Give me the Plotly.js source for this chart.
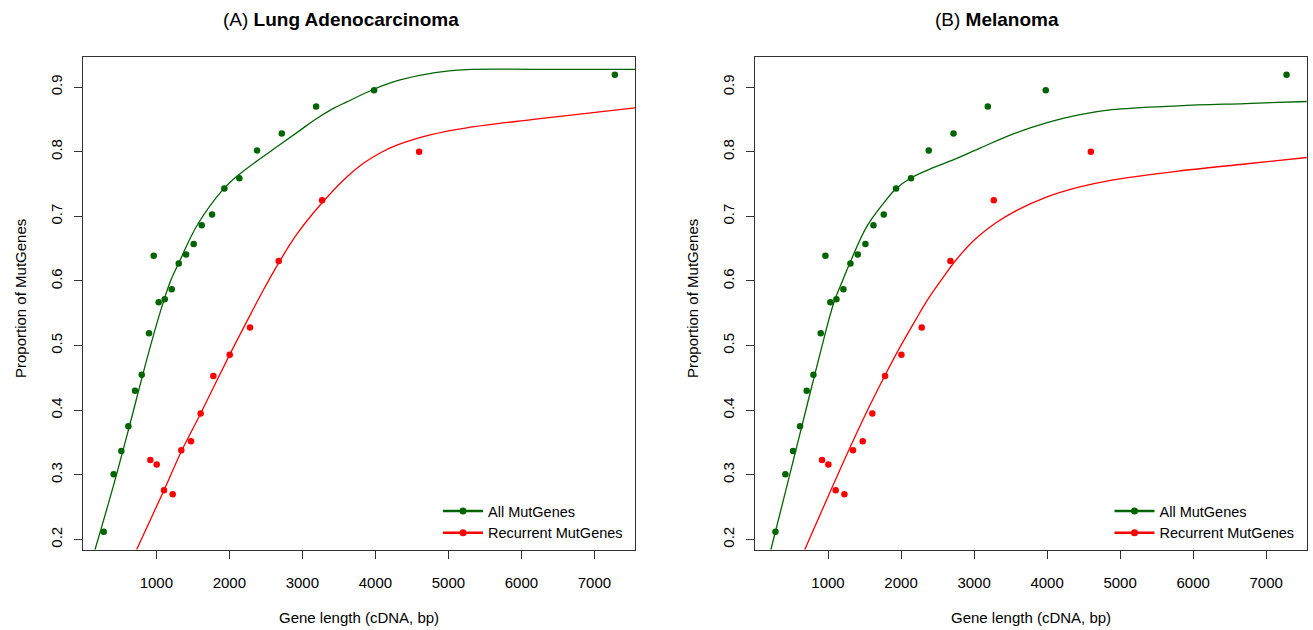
<!DOCTYPE html>
<html>
<head>
<meta charset="utf-8">
<script src="https://cdn.plot.ly/plotly-3.0.1.min.js"></script>
<style>html,body{margin:0;padding:0;background:#fff}#chart{width:1313px;height:630px}</style>
</head>
<body>
<div id="chart"></div>
<script>
// ---- data ----
const allX = [280, 416, 521, 617, 708, 800, 900, 964, 1032, 1115, 1211, 1307, 1407, 1512, 1622, 1763, 1932, 2137, 2379, 2718, 3188, 3982, 7279];
const allY = [0.212, 0.301, 0.337, 0.375, 0.430, 0.455, 0.519, 0.639, 0.567, 0.5715, 0.587, 0.627, 0.641, 0.657, 0.686, 0.703, 0.743, 0.759, 0.802, 0.828, 0.870, 0.895, 0.919];
const recX = [918, 1005, 1105, 1224, 1342, 1475, 1607, 1781, 2005, 2283, 2676, 3270, 4599];
const recY = [0.323, 0.316, 0.276, 0.270, 0.338, 0.352, 0.395, 0.453, 0.486, 0.528, 0.631, 0.725, 0.800];

// smoothed fit curves, panel A (Lung Adenocarcinoma)
const lungAllFitX = [161, 411, 640, 868, 1051, 1188, 1325, 1553, 1918, 2147, 2695, 2968, 3151, 3425, 3608, 3986, 4338, 4795, 5251, 6164, 7560];
const lungAllFitY = [0.1845, 0.2825, 0.379, 0.478, 0.551, 0.598, 0.632, 0.685, 0.742, 0.766, 0.811, 0.833, 0.848, 0.867, 0.877, 0.897, 0.911, 0.922, 0.927, 0.9275, 0.9275];
const lungRecFitX = [731, 1105, 1342, 1607, 2005, 2238, 2466, 2676, 2922, 3270, 3608, 3836, 4064, 4293, 4749, 5251, 6164, 7560];
const lungRecFitY = [0.1845, 0.276, 0.336, 0.395, 0.486, 0.537, 0.586, 0.628, 0.672, 0.721, 0.761, 0.782, 0.798, 0.810, 0.826, 0.837, 0.850, 0.868];

// smoothed fit curves, panel B (Melanoma)
const melAllFitX = [218, 391, 641, 883, 1078, 1205, 1296, 1524, 1751, 1924, 2128, 2433, 2706, 3090, 3547, 4000, 4434, 4888, 5798, 6708, 7560];
const melAllFitY = [0.1845, 0.262, 0.375, 0.484, 0.566, 0.602, 0.627, 0.683, 0.719, 0.742, 0.759, 0.775, 0.787, 0.806, 0.828, 0.845, 0.857, 0.865, 0.871, 0.8745, 0.8777];
const melRecFitX = [682, 1069, 1296, 1524, 1781, 1978, 2206, 2365, 2561, 2750, 3000, 3300, 3547, 4000, 4434, 4888, 5798, 6708, 7560];
const melRecFitY = [0.1845, 0.284, 0.341, 0.396, 0.454, 0.496, 0.541, 0.571, 0.603, 0.632, 0.663, 0.690, 0.707, 0.730, 0.745, 0.756, 0.770, 0.781, 0.791];

const xTicks = [1000, 2000, 3000, 4000, 5000, 6000, 7000];
const xTickText = ['1000', '2000', '3000', '4000', '5000', '6000', '7000'];
const yTicks = [0.2, 0.3, 0.4, 0.5, 0.6, 0.7, 0.8, 0.9];
const yTickText = ['0.2', '0.3', '0.4', '0.5', '0.6', '0.7', '0.8', '0.9'];

const seriesNames = ['All MutGenes', 'Recurrent MutGenes'];
const panelTitles = ['(A) <b>Lung Adenocarcinoma</b>', '(B) <b>Melanoma</b>'];

// ---- styles ----
const GREEN = '#006400';
const RED = '#ff0000';
const FONT = 'Liberation Sans, Arial, Helvetica, sans-serif';
const W = 1313, H = 630;
const px = v => v / W;
const py = v => (H - v) / H;

function pts(x, y, c, xa, ya) {
  return {x, y, xaxis: xa, yaxis: ya, type: 'scatter', mode: 'markers', showlegend: false, hoverinfo: 'x+y',
    marker: {color: c, size: 6.5}};
}
function fit(x, y, c, xa, ya) {
  return {x, y, xaxis: xa, yaxis: ya, type: 'scatter', mode: 'lines', showlegend: false, hoverinfo: 'skip',
    line: {color: c, width: 1.3, shape: 'spline', smoothing: 1}};
}
function leg(name, c, lg) {
  return {x: [null], y: [null], type: 'scatter', mode: 'lines+markers', name, legend: lg, showlegend: true,
    line: {color: c, width: 2.4}, marker: {color: c, size: 7}};
}

const traces = [
  fit(lungAllFitX, lungAllFitY, GREEN, 'x', 'y'),
  fit(lungRecFitX, lungRecFitY, RED, 'x', 'y'),
  pts(allX, allY, GREEN, 'x', 'y'),
  pts(recX, recY, RED, 'x', 'y'),
  fit(melAllFitX, melAllFitY, GREEN, 'x2', 'y2'),
  fit(melRecFitX, melRecFitY, RED, 'x2', 'y2'),
  pts(allX, allY, GREEN, 'x2', 'y2'),
  pts(recX, recY, RED, 'x2', 'y2'),
  leg(seriesNames[0], GREEN, 'legend'),
  leg(seriesNames[1], RED, 'legend'),
  leg(seriesNames[0], GREEN, 'legend2'),
  leg(seriesNames[1], RED, 'legend2')
];

const AXC = '#333';
function xax(dom, anchor) {
  return {domain: dom, anchor, range: [0, 7555], tickmode: 'array', tickvals: xTicks, ticktext: xTickText,
    ticks: 'outside', ticklen: 8, tickwidth: 1, tickcolor: AXC, showline: true, linecolor: AXC, linewidth: 1,
    mirror: true, showgrid: false, zeroline: false, ticklabelstandoff: 11,
    tickfont: {family: FONT, size: 15, color: '#000'}};
}
function yax(anchor) {
  return {domain: [py(550), py(56.5)], anchor, range: [0.1837, 0.9473], tickmode: 'array', tickvals: yTicks,
    ticktext: yTickText, tickangle: -90, ticks: 'outside', ticklen: 8, tickwidth: 1, tickcolor: AXC,
    showline: true, linecolor: AXC, linewidth: 1, mirror: true, showgrid: false, zeroline: false,
    ticklabelstandoff: 6, tickfont: {family: FONT, size: 15, color: '#000'}};
}
function legendCfg(leftPx) {
  return {x: px(leftPx), xanchor: 'left', y: py(495), yanchor: 'top', bgcolor: 'rgba(0,0,0,0)', borderwidth: 0,
    itemwidth: 40, tracegroupgap: 0, font: {family: FONT, size: 14.5, color: '#000'}, itemclick: false, itemdoubleclick: false};
}

const ann = (text, x, y, size, rot) => ({text, x: px(x), y: py(y), xref: 'paper', yref: 'paper', showarrow: false,
  xanchor: 'center', yanchor: 'middle', textangle: rot || 0, font: {family: FONT, size, color: '#000'}});

const layout = {
  width: W, height: H, margin: {l: 0, r: 0, t: 0, b: 0}, paper_bgcolor: '#fff', plot_bgcolor: '#fff',
  font: {family: FONT, color: '#000'}, showlegend: true, hovermode: 'closest',
  xaxis: xax([px(83.3), px(635)], 'y'),
  yaxis: yax('x'),
  xaxis2: xax([px(755), px(1306.7)], 'y2'),
  yaxis2: yax('x2'),
  legend: legendCfg(438),
  legend2: legendCfg(1109.5),
  annotations: [
    ann(panelTitles[0], 341, 19, 19),
    ann(panelTitles[1], 997, 19, 19),
    ann('Gene length (cDNA, bp)', 359, 617, 15),
    ann('Gene length (cDNA, bp)', 1031, 617, 15),
    ann('Proportion of MutGenes', 20, 299, 15, -90),
    ann('Proportion of MutGenes', 692, 299, 15, -90)
  ]
};

Plotly.newPlot('chart', traces, layout, {displayModeBar: false, staticPlot: true});
</script>
</body>
</html>
